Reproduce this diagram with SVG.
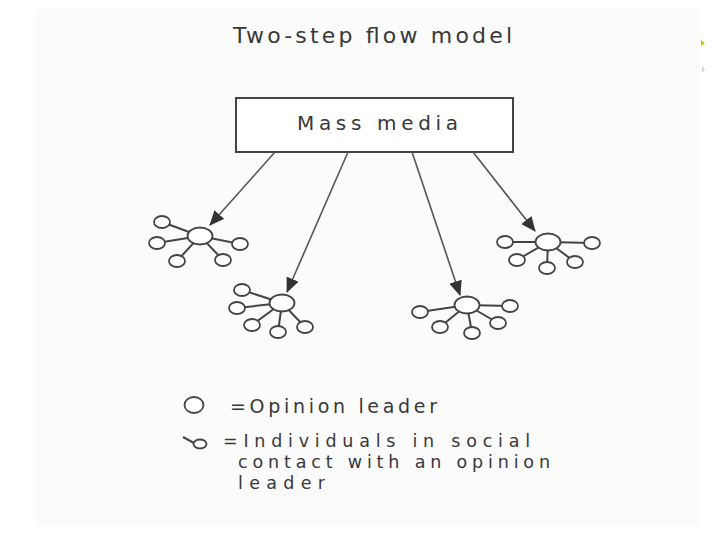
<svg xmlns="http://www.w3.org/2000/svg" width="720" height="540" viewBox="0 0 720 540">
<defs>
<marker id="ah" viewBox="0 0 15 13" refX="14" refY="6.5" markerWidth="15" markerHeight="13" markerUnits="userSpaceOnUse" orient="auto">
<path d="M0,0 L15,6.5 L0,13 z" fill="#333"/>
</marker>
</defs>
<style>
.t{font-family:"DejaVu Sans","Liberation Sans",sans-serif;fill:#383838}
.sp{stroke:#444;stroke-width:2}
.nd{stroke:#444;stroke-width:1.8;fill:#fff}
.ar{stroke:#555;stroke-width:1.6;fill:none}
</style>
<rect x="0" y="0" width="720" height="540" fill="#fff"/>
<rect x="35" y="10" width="665" height="515" fill="#fbfbfb"/>
<path d="M701,40 L705,43 L701,46 z" fill="#c8c400"/>
<path d="M702,66 L705,69.5 L702,73 z" fill="#d4d4dc"/>
<text class="t" x="233" y="43" font-size="22" textLength="279" lengthAdjust="spacing">Two-step flow model</text>
<g id="mass-media">
<rect x="236" y="98" width="277" height="54" fill="#fff" stroke="#444" stroke-width="2"/>
<text class="t" x="297" y="130" font-size="20" textLength="161" lengthAdjust="spacing">Mass media</text>
</g>
<g id="connectors">
<line class="ar" x1="275" y1="152" x2="210" y2="225" marker-end="url(#ah)"/>
<line class="ar" x1="348" y1="152" x2="287" y2="292" marker-end="url(#ah)"/>
<line class="ar" x1="412" y1="152" x2="460" y2="295" marker-end="url(#ah)"/>
<line class="ar" x1="473" y1="152" x2="535" y2="231" marker-end="url(#ah)"/>
</g>
<g id="cluster-1">
<line class="sp" x1="200" y1="236" x2="162" y2="222"/>
<line class="sp" x1="200" y1="236" x2="157" y2="243"/>
<line class="sp" x1="200" y1="236" x2="177" y2="261"/>
<line class="sp" x1="200" y1="236" x2="223" y2="260"/>
<line class="sp" x1="200" y1="236" x2="240" y2="244"/>
<ellipse class="nd" cx="200" cy="236" rx="12.5" ry="8.5"/>
<ellipse class="nd" cx="162" cy="222" rx="8" ry="6"/>
<ellipse class="nd" cx="157" cy="243" rx="8" ry="6"/>
<ellipse class="nd" cx="177" cy="261" rx="8" ry="6"/>
<ellipse class="nd" cx="223" cy="260" rx="8" ry="6"/>
<ellipse class="nd" cx="240" cy="244" rx="8" ry="6"/>
</g>
<g id="cluster-2">
<line class="sp" x1="282" y1="303" x2="242" y2="290"/>
<line class="sp" x1="282" y1="303" x2="237" y2="308"/>
<line class="sp" x1="282" y1="303" x2="252" y2="325"/>
<line class="sp" x1="282" y1="303" x2="278" y2="332"/>
<line class="sp" x1="282" y1="303" x2="305" y2="327"/>
<ellipse class="nd" cx="282" cy="303" rx="12.5" ry="8.5"/>
<ellipse class="nd" cx="242" cy="290" rx="8" ry="6"/>
<ellipse class="nd" cx="237" cy="308" rx="8" ry="6"/>
<ellipse class="nd" cx="252" cy="325" rx="8" ry="6"/>
<ellipse class="nd" cx="278" cy="332" rx="8" ry="6"/>
<ellipse class="nd" cx="305" cy="327" rx="8" ry="6"/>
</g>
<g id="cluster-3">
<line class="sp" x1="467" y1="305" x2="420" y2="312"/>
<line class="sp" x1="467" y1="305" x2="440" y2="327"/>
<line class="sp" x1="467" y1="305" x2="472" y2="333"/>
<line class="sp" x1="467" y1="305" x2="498" y2="323"/>
<line class="sp" x1="467" y1="305" x2="510" y2="306"/>
<ellipse class="nd" cx="467" cy="305" rx="12.5" ry="8.5"/>
<ellipse class="nd" cx="420" cy="312" rx="8" ry="6"/>
<ellipse class="nd" cx="440" cy="327" rx="8" ry="6"/>
<ellipse class="nd" cx="472" cy="333" rx="8" ry="6"/>
<ellipse class="nd" cx="498" cy="323" rx="8" ry="6"/>
<ellipse class="nd" cx="510" cy="306" rx="8" ry="6"/>
</g>
<g id="cluster-4">
<line class="sp" x1="548" y1="242" x2="505" y2="242"/>
<line class="sp" x1="548" y1="242" x2="517" y2="260"/>
<line class="sp" x1="548" y1="242" x2="547" y2="268"/>
<line class="sp" x1="548" y1="242" x2="575" y2="262"/>
<line class="sp" x1="548" y1="242" x2="592" y2="243"/>
<ellipse class="nd" cx="548" cy="242" rx="12.5" ry="8.5"/>
<ellipse class="nd" cx="505" cy="242" rx="8" ry="6"/>
<ellipse class="nd" cx="517" cy="260" rx="8" ry="6"/>
<ellipse class="nd" cx="547" cy="268" rx="8" ry="6"/>
<ellipse class="nd" cx="575" cy="262" rx="8" ry="6"/>
<ellipse class="nd" cx="592" cy="243" rx="8" ry="6"/>
</g>
<g id="legend">
<ellipse class="nd" cx="194" cy="405" rx="9.5" ry="8"/>
<text class="t" x="230" y="413" font-size="19" textLength="207" lengthAdjust="spacing">=Opinion leader</text>
<line class="sp" x1="183" y1="437" x2="194" y2="443"/>
<ellipse class="nd" cx="200" cy="444" rx="6.5" ry="4.5"/>
<text class="t" x="223" y="447" font-size="17.5" textLength="307" lengthAdjust="spacing">=Individuals in social</text>
<text class="t" x="238" y="468" font-size="17.5" textLength="312" lengthAdjust="spacing">contact with an opinion</text>
<text class="t" x="238" y="489" font-size="17.5" textLength="87" lengthAdjust="spacing">leader</text>
</g>
</svg>
